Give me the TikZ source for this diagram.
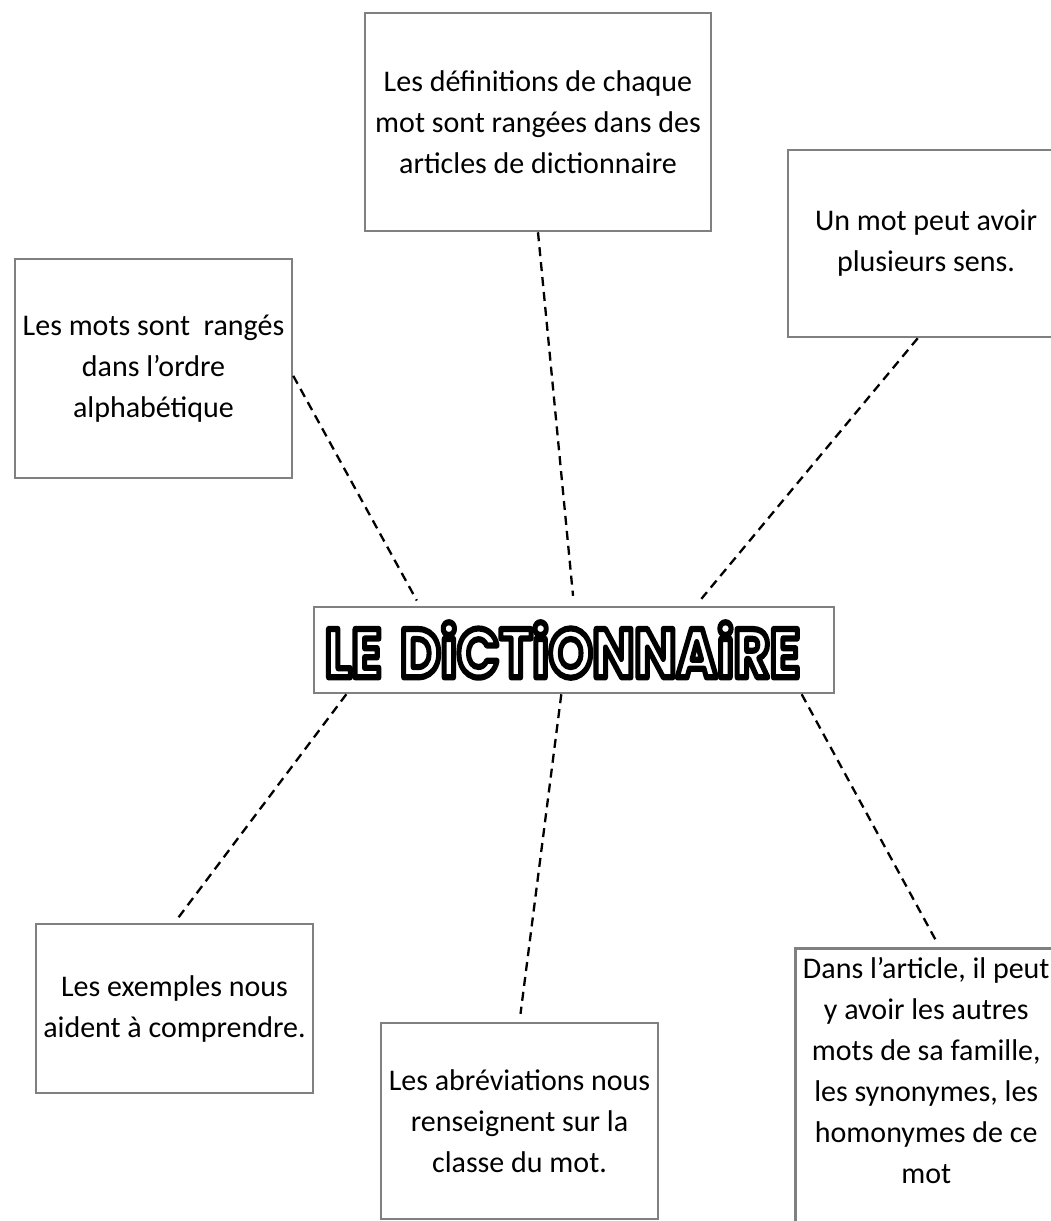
\documentclass[tikz,border=0pt]{standalone}
\usepackage{fontspec}
\setmainfont{Carlito}
\newfontfamily\titlefont{Poppins}
\usepackage{graphicx}
\definecolor{boxgray}{RGB}{128,128,128}
\newcommand{\bdtitre}[1]{\special{pdf:literal direct 1 Tr 0.9 w 1 j}#1\special{pdf:literal direct 0 Tr}}

\begin{document}
\begin{tikzpicture}[x=1pt, y=-1pt,
  bulle/.style={draw=boxgray, line width=2.5pt, align=center, inner sep=0pt,
    font=\fontsize{30}{41}\selectfont},
  txt/.style={align=center, inner sep=0pt, font=\fontsize{30}{41}\selectfont},
  lien/.style={draw=black, line width=2.3pt, dash pattern=on 9pt off 6pt}]
\useasboundingbox (0,0) rectangle (1050,1221);

\node[bulle, minimum width=346, minimum height=218] (defs) at (538,122)
  {Les définitions de chaque\\mot sont rangées dans des\\articles de dictionnaire};
\node[bulle, minimum width=276, minimum height=187] (sens) at (926,243.5)
  {Un mot peut avoir\\plusieurs sens.};
\node[bulle, minimum width=277, minimum height=219] (ordre) at (153.5,368.5)
  {Les mots sont\ \ rangés\\dans l’ordre\\alphabétique};
\node[draw=boxgray, line width=2.5pt, minimum width=520, minimum height=86,
  text width=498, align=left, inner sep=11pt] (titre) at (574,650)
  {\resizebox{475pt}{55pt}{\titlefont\bfseries\bdtitre{LE DiCTiONNAiRE}}};
\node[bulle, minimum width=277, minimum height=169] (exemples) at (174.5,1008.5)
  {Les exemples nous\\aident à comprendre.};
\node[bulle, minimum width=277, minimum height=196] (abrev) at (519.5,1121)
  {Les abréviations nous\\renseignent sur la\\classe du mot.};
\node[bulle, minimum width=262, minimum height=300, anchor=north west] (famille) at (794,947) {};
\node[txt, anchor=north] (famtexte) at ([yshift=-10pt]famille.north)
  {Dans l’article, il peut\\y avoir les autres\\mots de sa famille,\\les synonymes, les\\homonymes de ce\\mot};

\draw[lien, shorten >=6pt] (ordre.-3) -- (titre.164);
\draw[lien, shorten >=10pt] (defs.south) -- (titre.north);
\draw[lien, shorten >=9pt] (sens.-95) -- (titre.20);
\draw[lien, shorten >=4pt] (titre.191) -- (exemples.north);
\draw[lien, shorten >=8pt] (titre.-106) -- (abrev.north);
\draw[lien, shorten >=3pt] (titre.-11) -- (famille.85);
\end{tikzpicture}
\end{document}
